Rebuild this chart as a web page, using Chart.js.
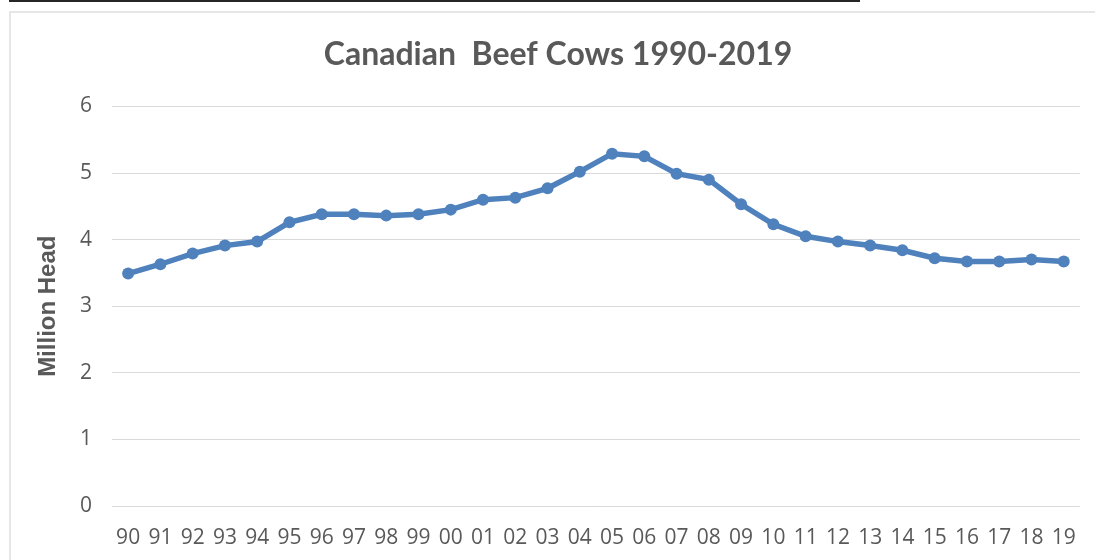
<!DOCTYPE html>
<html>
<head>
<meta charset="utf-8">
<script src="https://cdn.jsdelivr.net/npm/chart.js@4"></script>
<style>
  html, body { margin: 0; padding: 0; background: #fff; }
  #wrap { position: relative; width: 1095px; height: 560px; overflow: hidden; }
  #rule { position: absolute; left: 9px; top: 0; width: 851px; height: 2px; background: #262626; }
  #frame { position: absolute; left: 9px; top: 11px; width: 1200px; height: 700px;
           border: 2px solid #e6e6e6; box-sizing: border-box; }
  #chart { position: absolute; left: 0; top: 0; }
</style>
</head>
<body>
<div id="wrap">
  <div id="rule"></div>
  <div id="frame"></div>
  <canvas id="chart" width="1095" height="560"></canvas>
</div>
<script>
// Beef cow inventory, million head, 1990-2019
const years = ['90', '91', '92', '93', '94', '95', '96', '97', '98', '99',
               '00', '01', '02', '03', '04', '05', '06', '07', '08', '09',
               '10', '11', '12', '13', '14', '15', '16', '17', '18', '19'];
const beefCows = [3.49, 3.63, 3.79, 3.91, 3.97, 4.26, 4.38, 4.38, 4.36, 4.38,
                  4.45, 4.60, 4.63, 4.77, 5.02, 5.29, 5.25, 4.99, 4.90, 4.53,
                  4.23, 4.05, 3.97, 3.91, 3.84, 3.72, 3.67, 3.67, 3.70, 3.67];
const yTicks = [0, 1, 2, 3, 4, 5, 6];

const textColor = '#595959';
const gridColor = '#d9d9d9';
const lineBlue = '#4f81bd';

const ctx = document.getElementById('chart').getContext('2d');
new Chart(ctx, {
  type: 'line',
  data: {
    labels: years,
    datasets: [{
      label: 'Beef cows',
      data: beefCows,
      borderColor: lineBlue,
      backgroundColor: lineBlue,
      borderWidth: 5.5,
      pointRadius: 6,
      pointBorderWidth: 0,
      tension: 0
    }]
  },
  options: {
    responsive: false,
    animation: false,
    layout: { padding: { left: 36, right: 15, top: 0, bottom: 0 } },
    plugins: {
      legend: { display: false },
      tooltip: { enabled: false },
      title: {
        display: true,
        text: 'Canadian  Beef Cows 1990-2019',
        color: textColor,
        font: { family: 'Lato', size: 32, weight: 'bold', lineHeight: 1.2 },
        padding: { top: 35, bottom: 33 }
      }
    },
    scales: {
      x: {
        offset: true,
        grid: { display: false, drawTicks: false },
        border: { display: false },
        ticks: {
          color: textColor,
          font: { family: 'Open Sans', size: 21 },
          padding: 19,
          maxRotation: 0,
          autoSkip: false
        },
        afterFit: (scale) => { scale.height = 54; }
      },
      y: {
        min: 0,
        max: 6,
        afterBuildTicks: (scale) => { scale.ticks = yTicks.map(v => ({ value: v })); },
        grid: { color: gridColor, lineWidth: 1, drawTicks: false },
        border: { display: false },
        ticks: {
          color: textColor,
          font: { family: 'Open Sans', size: 21 },
          padding: 20
        },
        title: {
          display: true,
          text: 'Million Head',
          color: textColor,
          font: { family: 'Liberation Sans', size: 24, weight: 'bold', lineHeight: 1 },
          padding: { top: 0, bottom: 0 }
        },
        afterFit: (scale) => { scale.width = 76; }
      }
    }
  }
});
</script>
</body>
</html>
